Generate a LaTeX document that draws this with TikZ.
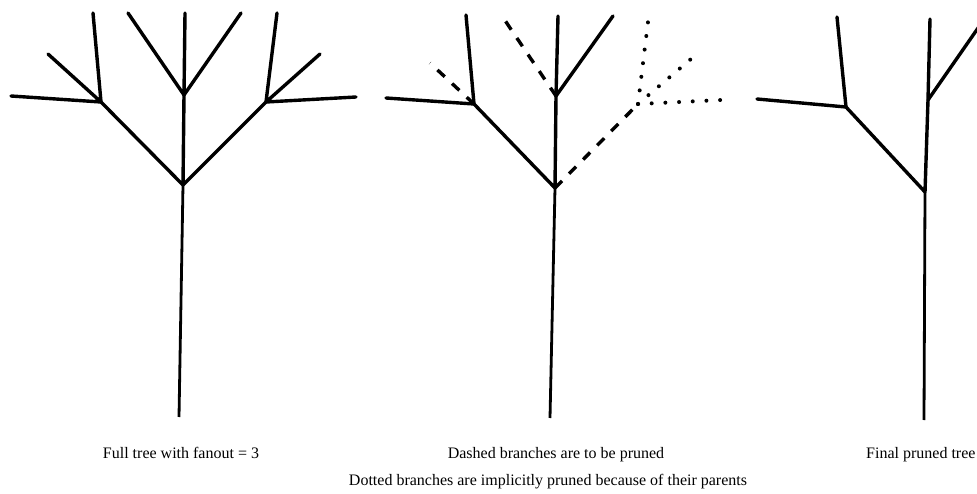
\documentclass[tikz,border=0pt]{standalone}
\usepackage{fontspec}
\setmainfont{Liberation Serif}
\begin{document}
\begin{tikzpicture}[x=1pt,y=-1pt,
  branch/.style={line width=3.4pt,line cap=round},
  trunkline/.style={line width=2.8pt},
  pruned/.style={line width=3.4pt,dash pattern=on 10pt off 10pt},
  implicit/.style={line width=4pt,line cap=round,dash pattern=on 0pt off 13.7pt},
  caption/.style={font=\fontsize{16}{19}\selectfont,anchor=base,inner sep=0pt}]
\useasboundingbox (0,0) rectangle (977,494);
\clip (0,0) rectangle (977,494);

% ---- full tree ----
\coordinate (r1) at (183,185);
\coordinate (b1) at (179,417);
\coordinate (a1) at (101,102);
\coordinate (m1) at (184,95);
\coordinate (c1) at (266,102);
\coordinate (a1x) at (11,96);
\coordinate (a1y) at (48,54);
\coordinate (a1z) at (93,13);
\coordinate (m1x) at (128,13);
\coordinate (m1y) at (185,13);
\coordinate (m1z) at (241,13);
\coordinate (c1x) at (277,13);
\coordinate (c1y) at (320,54);
\coordinate (c1z) at (356,97);
\draw[trunkline] (b1) -- (r1);
\draw[branch] (r1) -- (a1) (r1) -- (m1) (r1) -- (c1);
\draw[branch] (a1) -- (a1x) (a1) -- (a1y) (a1) -- (a1z);
\draw[branch] (m1) -- (m1x) (m1) -- (m1y) (m1) -- (m1z);
\draw[branch] (c1) -- (c1x) (c1) -- (c1y) (c1) -- (c1z);

% ---- tree marked for pruning ----
\coordinate (r2) at (555,188);
\coordinate (b2) at (550,418);
\coordinate (a2) at (474,104);
\coordinate (m2) at (556,96);
\coordinate (c2) at (638,104);
\coordinate (a2x) at (386,98);
\coordinate (a2y) at (430,63);
\coordinate (a2z) at (466,15);
\coordinate (m2x) at (502,16);
\coordinate (m2y) at (558,16);
\coordinate (m2z) at (613,16);
\coordinate (c2x) at (648,22);
\coordinate (c2y) at (691,59);
\coordinate (c2z) at (721,100);
\draw[trunkline] (b2) -- (r2);
\draw[branch] (r2) -- (a2) (r2) -- (m2);
\draw[pruned] (r2) -- (c2);
\draw[branch] (a2) -- (a2x) (a2) -- (a2z);
\draw[pruned] (a2) -- (a2y);
\draw[pruned] (m2) -- (m2x);
\draw[branch] (m2) -- (m2y) (m2) -- (m2z);
\draw[implicit] (c2) -- (c2x);
\draw[implicit] (c2) -- (c2y);
\draw[implicit] (c2) -- (c2z);

% ---- pruned tree ----
\coordinate (r3) at (925,192);
\coordinate (b3) at (924,420);
\coordinate (a3) at (846,107);
\coordinate (m3) at (928,100);
\coordinate (a3x) at (757,99);
\coordinate (a3z) at (837,17);
\coordinate (m3y) at (930,19);
\coordinate (m3z) at (985,18);
\draw[trunkline] (b3) -- (r3);
\draw[branch] (r3) -- (a3) (r3) -- (m3);
\draw[branch] (a3) -- (a3x) (a3) -- (a3z);
\draw[branch] (m3) -- (m3y) (m3) -- (m3z);

% ---- captions ----
\node[caption] (cap1) at (181,458) {Full tree with fanout = 3};
\node[caption] (cap2) at (556,458) {Dashed branches are to be pruned};
\node[caption,anchor=base west] (cap3) at (866,458) {Final pruned tree};
\node[caption] (cap4) at (548,485) {Dotted branches are implicitly pruned because of their parents};
\end{tikzpicture}
\end{document}
